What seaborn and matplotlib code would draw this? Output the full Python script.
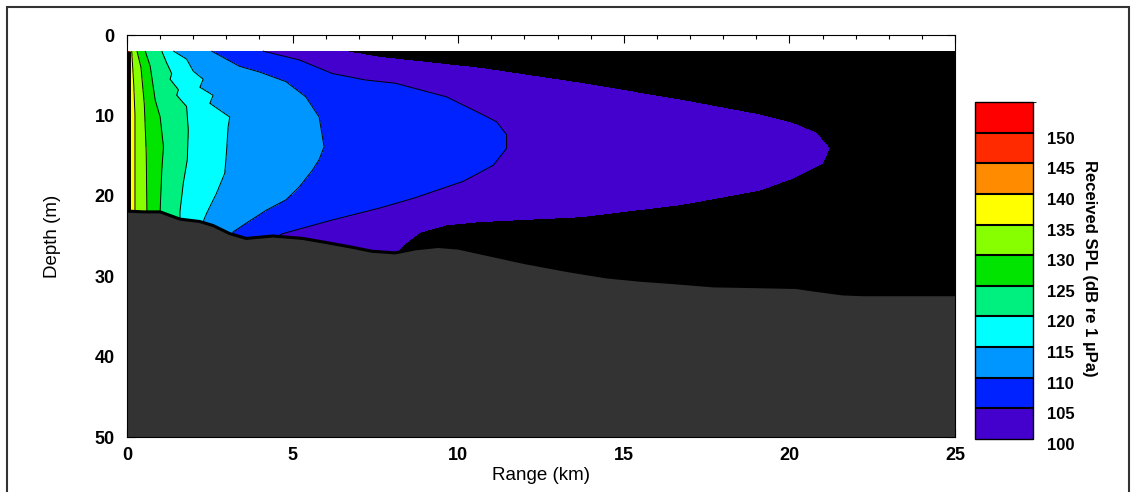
import numpy as np
import matplotlib
matplotlib.use("Agg")
import matplotlib.pyplot as plt
import matplotlib.colors as mcolors
from matplotlib.patches import Rectangle
from matplotlib.transforms import ScaledTranslation
import seaborn as sns

# SPL contour levels and colours (dB re 1 uPa)
levels = [100, 105, 110, 115, 120, 125, 130, 135, 140, 145, 150, 155]
band_colors = ["#4400cc", "#0022ff", "#0096ff", "#00ffff", "#00f080", "#00e400",
               "#88ff00", "#ffff00", "#ff8c00", "#ff2a00", "#ff0000"]

# range (km) at which each contour is crossed, read at a set of depths (m)
z_100 = [2, 2.8, 4.15, 6.0, 8.1, 9.95, 11.0, 12.2, 14.1, 15.9, 17.8, 19.3, 21.1, 22.6, 23.2, 23.6, 24.5, 26.1, 27.1]
r_100 = [6.5, 7.64, 10.66, 13.68, 16.7, 19.1, 20.1, 20.8, 21.2, 21.0, 20.1, 19.1, 16.7, 13.7, 10.66, 9.65, 8.85, 8.34, 8.1]
z_105 = [2, 3.1, 4.8, 5.6, 6.0, 6.6, 7.7, 9.74, 10.8, 12.4, 14.1, 16.2, 18.2, 20.3, 21.5, 23.0, 24.7, 24.9]
r_105 = [4.1, 5.2, 6.2, 7.2, 8.1, 8.65, 9.65, 10.66, 11.16, 11.46, 11.46, 11.06, 10.15, 8.65, 7.64, 6.2, 4.7, 4.6]
z_110 = [2, 3.9, 4.6, 5.8, 7.7, 10.2, 13.9, 15.5, 16.8, 18.9, 20.5, 21.8, 23.4, 24.5]
r_110 = [2.55, 3.4, 4.0, 4.8, 5.4, 5.8, 5.95, 5.8, 5.6, 5.2, 4.8, 4.2, 3.6, 3.2]
z_115 = [2, 3, 4.5, 5.5, 6.5, 7.5, 8.5, 10.2, 11.5, 14.7, 17.2, 19.7, 22.2, 23.2]
r_115 = [1.4, 1.8, 2.0, 2.3, 2.2, 2.6, 2.5, 3.1, 3.05, 3.0, 2.95, 2.7, 2.4, 2.3]
z_120 = [2, 3.5, 4.8, 5.5, 6.8, 7.5, 8.9, 11.8, 15.5, 18.4, 21.9]
r_120 = [1.05, 1.2, 1.35, 1.3, 1.55, 1.5, 1.8, 1.85, 1.82, 1.7, 1.6]
z_125 = [2, 3.9, 8.1, 10.2, 13.9, 16.8, 21.9]
r_125 = [0.55, 0.7, 0.85, 1.0, 1.1, 1.05, 1.0]
z_130 = [2, 4, 8.5, 14.7, 21.9]
r_130 = [0.3, 0.42, 0.52, 0.58, 0.6]
z_135 = [2, 6, 10, 21.9]
r_135 = [0.14, 0.2, 0.24, 0.24]
z_140 = [2, 21.9]
r_140 = [0.09, 0.09]
z_145 = [2, 21.9]
r_145 = [0.05, 0.05]
z_150 = [2, 21.9]
r_150 = [0.02, 0.02]

# seabed depth along the track
bathy_range = [0, 0.5, 1.0, 1.6, 2.2, 2.6, 3.1, 3.6, 4.4, 5.3, 6.0, 6.8, 7.4, 8.1, 8.7, 9.4,
               10.0, 11.0, 12.0, 13.3, 14.5, 15.5, 16.5, 17.7, 19.0, 20.2, 20.7, 21.6, 22.2, 25.0]
bathy_depth = [21.9, 22.0, 22.0, 22.9, 23.2, 23.7, 24.7, 25.3, 25.0, 25.3, 25.8, 26.4, 26.9, 27.1, 26.6, 26.3,
               26.5, 27.4, 28.3, 29.3, 30.1, 30.5, 30.8, 31.2, 31.3, 31.4, 31.7, 32.2, 32.3, 32.3]

contours = [(150, z_150, r_150), (145, z_145, r_145), (140, z_140, r_140), (135, z_135, r_135),
            (130, z_130, r_130), (125, z_125, r_125), (120, z_120, r_120), (115, z_115, r_115),
            (110, z_110, r_110), (105, z_105, r_105), (100, z_100, r_100)]

# build the SPL field from the contour crossings
rr = np.linspace(0, 25, 2501)
zz = np.linspace(2, 50, 961)
spl = np.empty((len(zz), len(rr)))
for i, z in enumerate(zz):
    xs = [0.0] + [np.interp(z, zc, rc) for _, zc, rc in contours] + [30.0]
    ys = [160.0] + [lv for lv, _, _ in contours] + [90.0]
    spl[i] = np.interp(rr, xs, ys)

sns.set_style("ticks")
plt.rcParams["font.family"] = ["Liberation Sans", "DejaVu Sans"]
plt.rcParams["axes.edgecolor"] = "black"
plt.rcParams["axes.labelcolor"] = "black"
plt.rcParams["text.color"] = "black"
plt.rcParams["xtick.color"] = "black"
plt.rcParams["ytick.color"] = "black"

W, H = 1136, 492
fig = plt.figure(figsize=(W / 100, H / 100), dpi=100)
ax = fig.add_axes([127 / W, 1 - 437 / H, 828 / W, 402 / H])

fill_levels = [0] + levels
fill_colors = ["black"] + band_colors
ax.contourf(rr, zz, spl, levels=fill_levels, colors=fill_colors)
ax.contour(rr, zz, spl, levels=levels[1:-1], colors="black", linewidths=0.7)

# seabed
ax.fill_between(bathy_range, bathy_depth, 50, color="#333333", zorder=3, lw=0)
sns.lineplot(x=bathy_range, y=bathy_depth, color="black", lw=2.2, ax=ax, zorder=4, sort=False)

ax.set_xlim(0, 25)
ax.set_ylim(50, 0)
ax.set_xticks([0, 5, 10, 15, 20, 25])
ax.set_xticks(np.arange(0, 26, 1), minor=True)
ax.set_yticks([0, 10, 20, 30, 40, 50])
ax.tick_params(which="major", direction="in", top=True, right=True, length=6, width=0.8,
               labelsize=13)
ax.tick_params(axis="x", which="major", pad=7)
ax.tick_params(axis="y", which="major", pad=9)
ax.tick_params(which="minor", direction="in", top=True, right=False, left=False, length=3, width=0.8)
for lab in ax.get_xticklabels() + ax.get_yticklabels():
    lab.set_fontweight("bold")
for s in ax.spines.values():
    s.set_linewidth(0.8)
    s.set_zorder(5)
ax.set_xlabel("Range (km)", fontsize=13.5, labelpad=2, color="black")
ax.set_ylabel("Depth (m)", fontsize=13.5, labelpad=24, color="black")

# colourbar
cax = fig.add_axes([975 / W, 1 - 439 / H, 58 / W, 337 / H])
cmap = mcolors.ListedColormap(band_colors)
norm = mcolors.BoundaryNorm(levels, cmap.N)
sm = plt.cm.ScalarMappable(cmap=cmap, norm=norm)
cb = fig.colorbar(sm, cax=cax, ticks=levels[:-1], drawedges=True)
cb.outline.set_linewidth(1.0)
cb.dividers.set_linewidth(1.5)
cax.tick_params(length=0, labelsize=12, pad=10)
for lab in cax.get_yticklabels():
    lab.set_fontweight("bold")
    lab.set_transform(lab.get_transform() + ScaledTranslation(0, -5 / 100, fig.dpi_scale_trans))
fig.text(1089 / W, 1 - 268 / H, "Received SPL (dB re 1 \u00b5Pa)", rotation=270,
         ha="center", va="center", fontsize=12, fontweight="bold", color="black")

# outer frame
fig.patches.append(Rectangle((7 / W, -0.05), 1122 / W, 1.05 - 7 / H, transform=fig.transFigure,
                             fill=False, edgecolor="#333333", lw=1.5))

fig.savefig("out.png", dpi=100)
